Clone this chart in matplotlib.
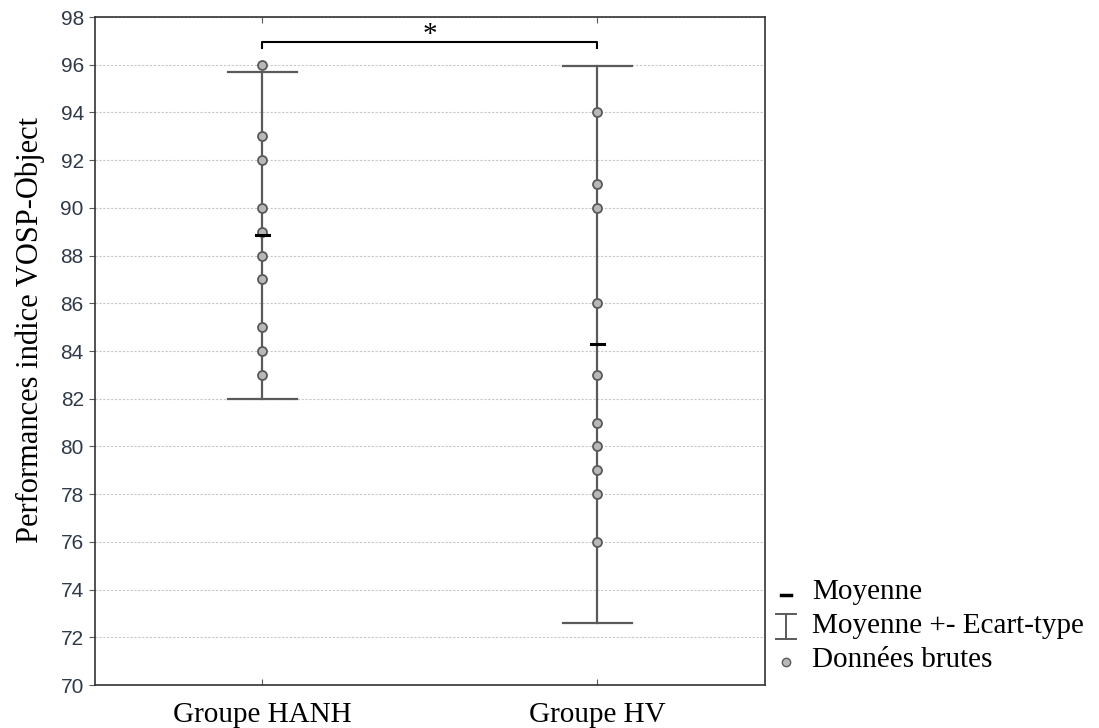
import matplotlib
matplotlib.use("Agg")
import matplotlib.pyplot as plt
from matplotlib.lines import Line2D

groups = ["Groupe HANH", "Groupe HV"]
hanh = [96, 93, 92, 90, 89, 88, 87, 85, 84, 83]
hv = [94, 91, 90, 86, 83, 81, 80, 79, 78, 76]
means = [88.85, 84.3]
sd_low = [82.0, 72.6]
sd_high = [95.7, 95.95]
yticks = list(range(70, 99, 2))

serif = ["Liberation Serif", "DejaVu Serif"]
sans = ["Liberation Sans", "DejaVu Sans"]
grey = "#5a5a5a"

fig = plt.figure(figsize=(10.99, 7.28), dpi=100)
ax = fig.add_axes([0.0864, 0.059, 0.6096, 0.9176])

for i, vals in enumerate([hanh, hv]):
    ax.plot([i, i], [sd_low[i], sd_high[i]], color=grey, lw=1.6, zorder=2)
    ax.plot([i - 0.104, i + 0.104], [sd_low[i]] * 2, color=grey, lw=1.6, zorder=2)
    ax.plot([i - 0.104, i + 0.104], [sd_high[i]] * 2, color=grey, lw=1.6, zorder=2)
    ax.scatter([i] * len(vals), vals, s=42, facecolor="#b8b8b8", edgecolor=grey,
               linewidth=1.3, zorder=3)
    ax.plot([i - 0.02, i + 0.02], [means[i]] * 2, color="black", lw=2.2, zorder=4)

# significance bracket
ax.plot([0, 0, 1, 1], [96.72, 96.95, 96.95, 96.72], color="black", lw=1.5, zorder=4)
ax.text(0.5, 97.25, "*", ha="center", va="center", fontsize=21, family=serif)

ax.set_xlim(-0.5, 1.5)
ax.set_ylim(70, 98)
ax.set_yticks(yticks)
ax.set_yticklabels([str(t) for t in yticks], family=sans, fontsize=15, color="#303a48")
ax.set_xticks([0, 1])
ax.set_xticklabels(groups, family=serif, fontsize=21, color="black")
ax.tick_params(axis="x", top=True, direction="in", length=4, color=grey, pad=12)
ax.tick_params(axis="y", direction="out", length=4, color=grey, pad=4)
ax.grid(axis="y", color="#c8c8c8", linestyle=(0, (2, 1.5)), lw=0.8)
ax.set_axisbelow(True)
for sp in ax.spines.values():
    sp.set_color("#333333")
    sp.set_linewidth(1.2)
ax.set_ylabel("Performances indice VOSP-Object", family=serif, fontsize=22)
ax.yaxis.set_label_coords(-0.075, 0.532)

# legend drawn outside the axes
fx0 = 786 / 1099
ftx = 812 / 1099
rows = [1 - 592 / 728, 1 - 626 / 728, 1 - 660 / 728]
fig.add_artist(Line2D([fx0 - 0.005, fx0 + 0.005], [rows[0] - 0.004] * 2, color="black", lw=2.5,
                      transform=fig.transFigure))
fig.add_artist(Line2D([fx0, fx0], [rows[1] - 0.018, rows[1] + 0.016], color=grey, lw=1.4,
                      transform=fig.transFigure))
for yy in (rows[1] - 0.018, rows[1] + 0.016):
    fig.add_artist(Line2D([fx0 - 0.009, fx0 + 0.009], [yy, yy], color=grey, lw=1.4,
                          transform=fig.transFigure))
fig.add_artist(Line2D([fx0], [rows[2] - 0.003], marker="o", markersize=6, color="none",
                      markerfacecolor="#b8b8b8", markeredgecolor=grey, markeredgewidth=1,
                      transform=fig.transFigure))
labels = ["Moyenne", "Moyenne +- Ecart-type", "Données brutes"]
for yy, lab in zip(rows, labels):
    fig.text(ftx, yy, lab, family=serif, fontsize=21, va="center", ha="left")

fig.savefig("out.png", dpi=100)
